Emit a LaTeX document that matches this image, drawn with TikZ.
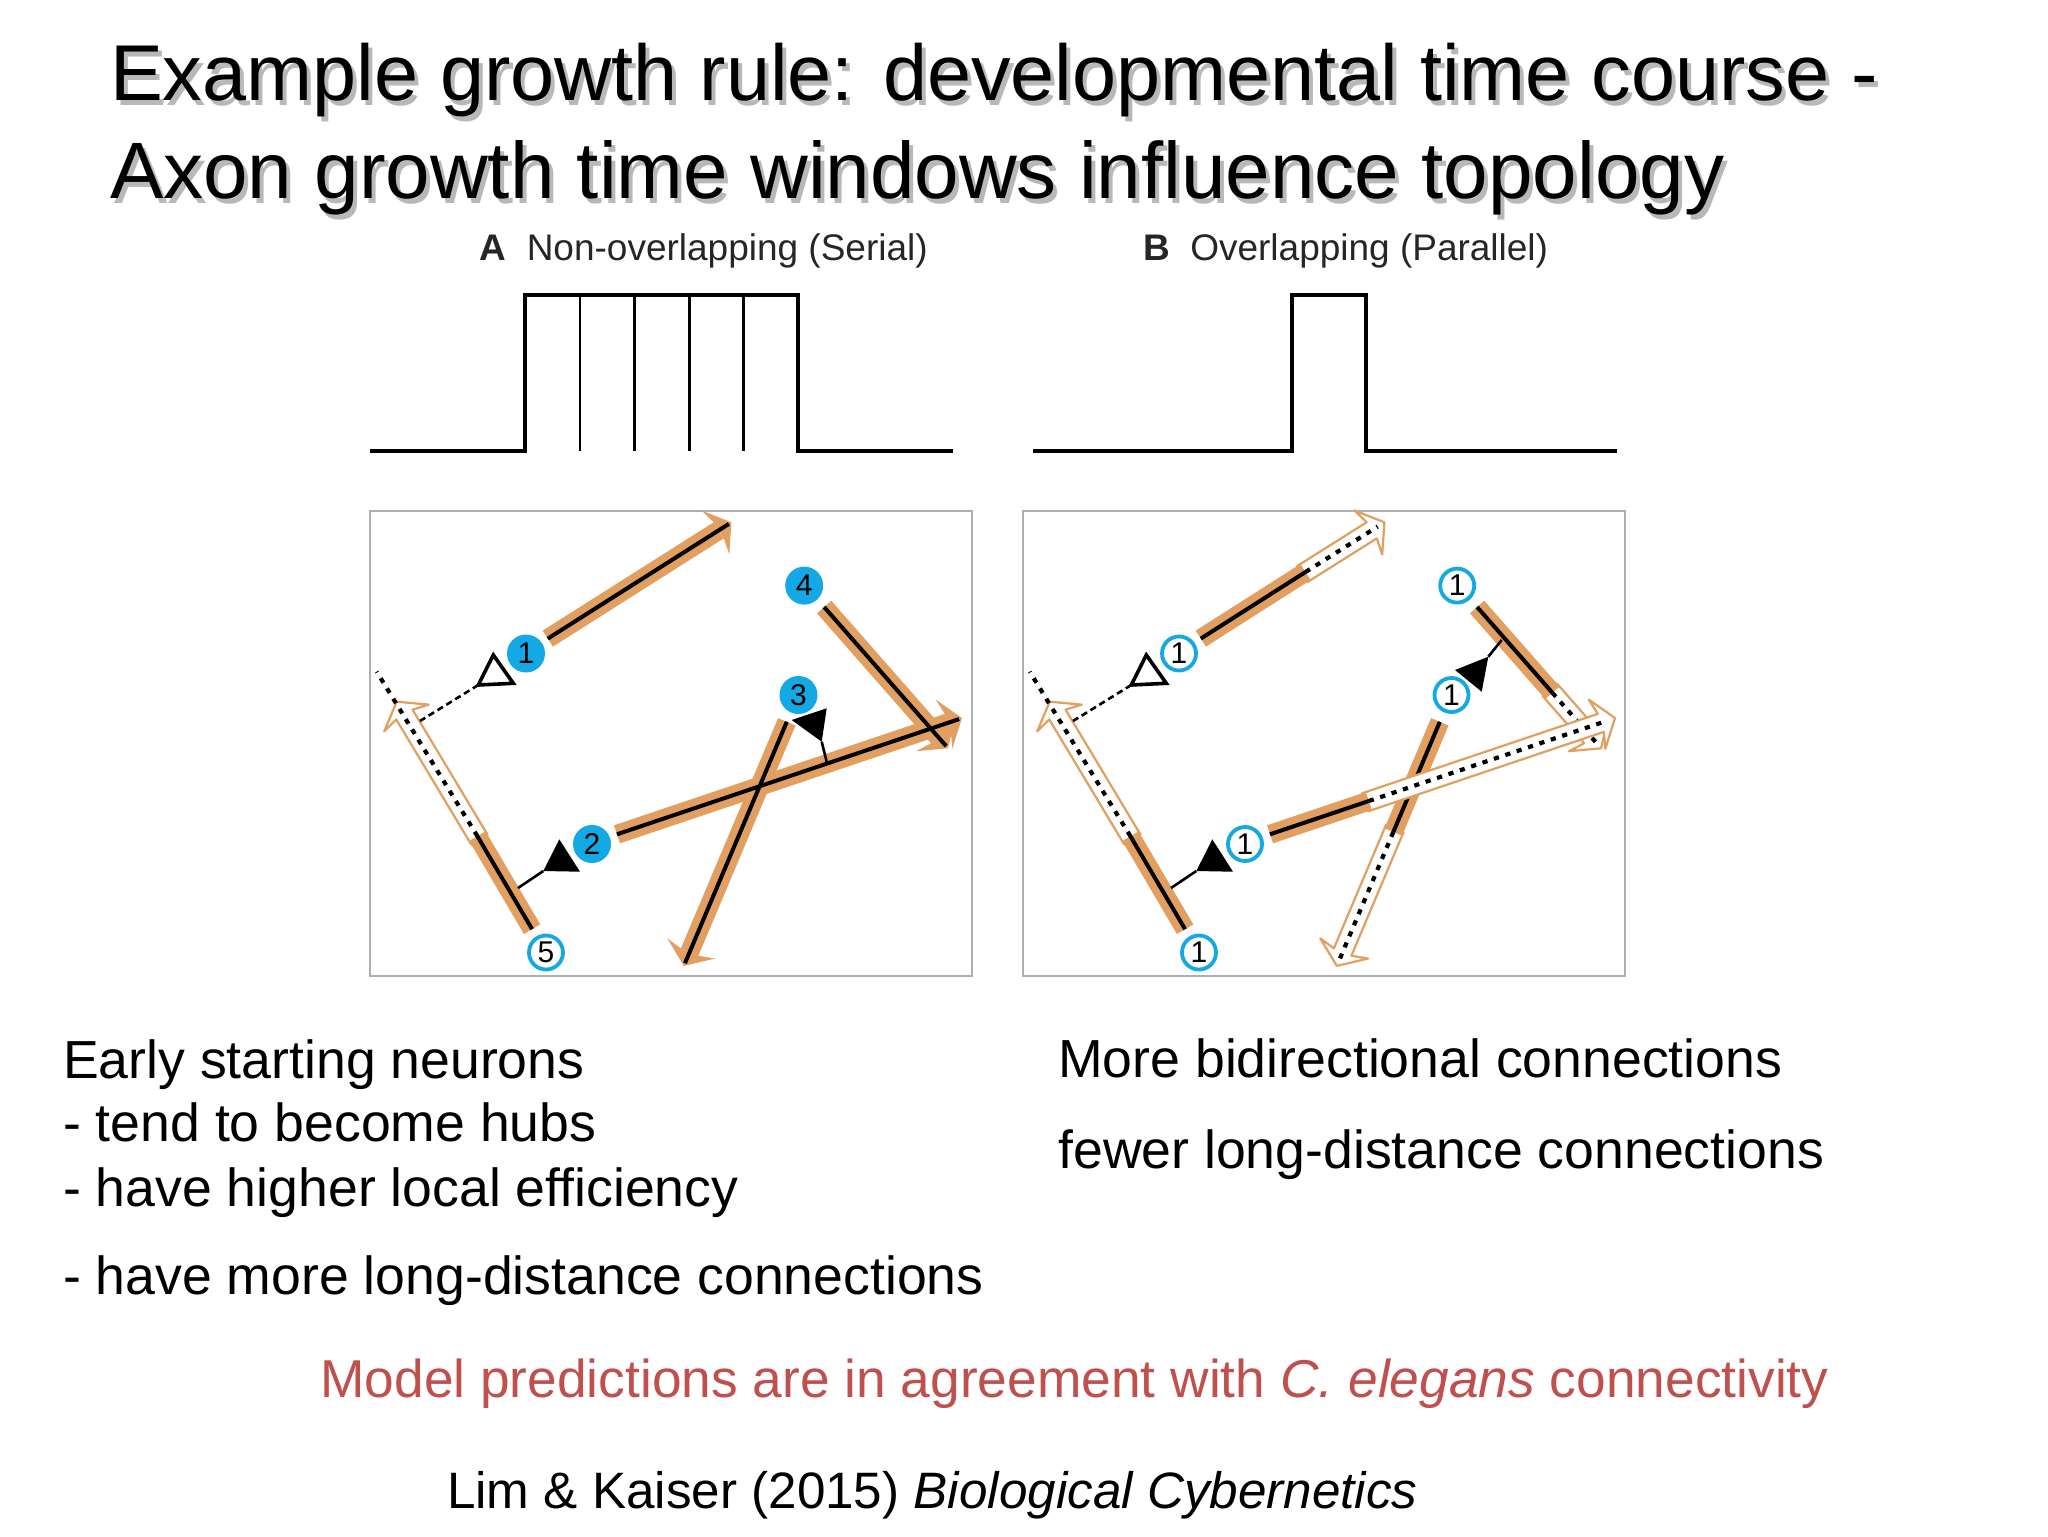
\documentclass[tikz,border=0pt]{standalone}
\usepackage{fontspec}
\setmainfont{Liberation Sans}
\usetikzlibrary{calc}
\definecolor{axorange}{RGB}{225,160,98}
\definecolor{nblue}{RGB}{20,168,228}
\definecolor{predred}{RGB}{192,80,77}
\definecolor{boxgray}{RGB}{175,175,175}
\tikzset{
  band/.style={line width=9.5pt, axorange},
  core/.style={line width=2pt, black},
  dots/.style={line width=2.1pt, black, dash pattern=on 2.6pt off 3.4pt},
  nfill/.style={circle, fill=nblue, minimum size=19pt, inner sep=0pt, font=\fontsize{15}{15}\selectfont},
  nring/.style={circle, draw=nblue, line width=1.9pt, fill=white, minimum size=17pt, inner sep=0pt, font=\fontsize{15}{15}\selectfont},
  ttl/.style={anchor=base west, inner sep=0pt, font=\fontsize{39.6}{48}\selectfont},
  ttlb/.style={anchor=base west, inner sep=0pt, font=\fontsize{40}{48}\selectfont},
  body/.style={anchor=base west, inner sep=0pt, font=\fontsize{26.8}{32}\selectfont},
  lab/.style={anchor=base west, inner sep=0pt, font=\fontsize{18.5}{22}\selectfont},
  pulse/.style={line width=1.9pt, black},
  pulsev/.style={line width=1.4pt, black},
  panelbox/.style={draw=boxgray, line width=1pt},
  opentri/.style={draw=black, line width=1.8pt, fill=white, line join=miter},
  stalk/.style={line width=1.3pt, black},
  dend/.style={line width=1.3pt, black, dash pattern=on 3.2pt off 2pt}
}
% head polygon of a solid axon: style, start, tip
\newcommand\headshape[3]{%
  \coordinate (hj) at ($(#3)!7.5pt!(#2)$);
  \coordinate (hk) at ($(#3)!9.5pt!(#2)$);
  \path[#1] ($(hj)!4.75pt!90:(#3)$) -- ($(hk)!13pt!90:(#3)$) -- (#3) --
   ($(hk)!13pt!-90:(#3)$) -- ($(hj)!4.75pt!-90:(#3)$) -- cycle;}
% hollow arrow polygon from #1 to tip #2
\newcommand\hollowshape[2]{%
  \coordinate (hj) at ($(#2)!7.5pt!(#1)$);
  \coordinate (hk) at ($(#2)!9.5pt!(#1)$);
  \path[fill=white, draw=axorange, line width=1.1pt, line join=round]
   ($(#1)!4.75pt!90:(#2)$) -- ($(hj)!4.75pt!90:(#2)$) -- ($(hk)!13pt!90:(#2)$) -- (#2) --
   ($(hk)!13pt!-90:(#2)$) -- ($(hj)!4.75pt!-90:(#2)$) -- ($(#1)!4.75pt!-90:(#2)$) -- cycle;}
\newcommand\solidband[2]{%
  \draw[band] (#1) -- ($(#2)!7.5pt!(#1)$);
  \headshape{fill=axorange}{#1}{#2}}
\newcommand\solidcore[2]{\draw[core] (#1) -- ($(#2)!1.5pt!(#1)$);}
% start, transition, tip, end of dotted line
\newcommand\mixedaxon[4]{%
  \coordinate (hb) at ($(#2)!2pt!(#1)$);
  \hollowshape{hb}{#3}
  \draw[band] (#1) -- (#2);
  \draw[core] (#1) -- (#2);
  \draw[dots] (#2) -- (#4);}
\begin{document}
\begin{tikzpicture}[x=0.5pt,y=-0.5pt]
\useasboundingbox (0,0) rectangle (2048,1536);
\fill[white] (0,0) rectangle (2048,1536);

% ---------- title ----------
\node[ttl, text=black!28] (t1s) at (113.7,105.1) {Example growth rule: developmental time course -};
\node[ttlb, text=black!28] (t2s) at (113.7,203) {Axon growth time windows influence topology};
\node[ttl] (t1) at (109.7,100.6) {Example growth rule: developmental time course -};
\node[ttlb] (t2) at (109.7,198.5) {Axon growth time windows influence topology};

% ---------- panel labels ----------
\node[lab, text=black!85] (labA) at (479.3,260) {\textbf{A}\hspace{0.55em}Non-overlapping (Serial)};
\node[lab, text=black!85] (labB) at (1142.8,260) {\textbf{B}\hspace{0.55em}Overlapping (Parallel)};

% ---------- time windows ----------
\draw[pulse, line join=miter] (369.6,450.6) -- (525,450.6) -- (525,295.2) -- (798,295.2) -- (798,450.6) -- (953.4,450.6);
\foreach \xx in {579.9,634.7,689.6,743.1} \draw[pulsev] (\xx,450.6) -- (\xx,295.2);
\draw[pulse, line join=miter] (1033,450.6) -- (1291.6,450.6) -- (1291.6,295.2) -- (1366,295.2) -- (1366,450.6) -- (1616.8,450.6);

% ---------- panel boxes ----------
\draw[panelbox] (369.6,510.7) rectangle (971.7,975.6);
\draw[panelbox] (1022.6,510.7) rectangle (1624.7,975.6);

% ---------- panel A ----------
\coordinate (Aa1s) at (547.8,638.6);
\coordinate (Aa1t) at (731.4,522.3);
\coordinate (Aa5s) at (532.1,929.2);
\coordinate (Aa5m) at (477.4,836.2);
\coordinate (Aa5t) at (396.7,701.7);
\coordinate (Aa5e) at (376.7,671.7);
\coordinate (Aa2s) at (617,834.3);
\coordinate (Aa2t) at (962,718.1);
\coordinate (Aa3s) at (786.8,721.8);
\coordinate (Aa3t) at (683.8,965.9);
\coordinate (Aa4s) at (824.1,607);
\coordinate (Aa4t) at (948.1,748.3);

\solidband{Aa3s}{Aa3t}
\solidband{Aa2s}{Aa2t}
\solidband{Aa4s}{Aa4t}
\solidband{Aa1s}{Aa1t}
\solidcore{Aa3s}{Aa3t}
\solidcore{Aa2s}{Aa2t}
\solidcore{Aa4s}{Aa4t}
\solidcore{Aa1s}{Aa1t}
\mixedaxon{Aa5s}{Aa5m}{Aa5t}{Aa5e}

% somata A
\coordinate (Ao1) at (493.3,655); \coordinate (Ao2) at (478.3,685); \coordinate (Ao3) at (513.3,683.3);
\coordinate (Aod) at (420,721);
\draw[dend] (Ao2) -- (Aod);
\draw[opentri] (Ao1) -- (Ao2) -- (Ao3) -- cycle;
\coordinate (Af1) at (559.3,839.3); \coordinate (Af2) at (580,871.7); \coordinate (Af3) at (543.3,871);
\coordinate (Afd) at (518,888);
\draw[stalk] (Af3) -- (Afd);
\fill[black] (Af1) -- (Af2) -- (Af3) -- cycle;
\coordinate (Ag1) at (791.7,720); \coordinate (Ag2) at (826.7,708.3); \coordinate (Ag3) at (821.7,741.7);
\coordinate (Agd) at (826.7,762);
\draw[stalk] (Ag3) -- (Agd);
\fill[black] (Ag1) -- (Ag2) -- (Ag3) -- cycle;

\node[nfill] (An1) at (526,653.5) {1};
\node[nfill] (An2) at (592,844) {2};
\node[nfill] (An3) at (798.5,695) {3};
\node[nfill] (An4) at (804.2,585.6) {4};
\node[nring] (An5) at (546,952.5) {5};

% ---------- panel B ----------
\coordinate (Ba1s) at (1200.8,638.6);
\coordinate (Ba1m) at (1305.5,572);
\coordinate (Ba1t) at (1384.4,522.3);
\coordinate (Ba1e) at ($(Ba1t)!4pt!(Ba1s)$);
\coordinate (Ba5s) at (1185.1,929.2);
\coordinate (Ba5m) at (1130.4,836.2);
\coordinate (Ba5t) at (1049.7,701.7);
\coordinate (Ba5e) at (1029.7,671.7);
\coordinate (Ba2s) at (1270,834.3);
\coordinate (Ba2m) at (1368.8,801);
\coordinate (Ba2t) at (1615,718.1);
\coordinate (Ba2e) at ($(Ba2t)!4pt!(Ba2s)$);
\coordinate (Ba3s) at (1439.8,721.8);
\coordinate (Ba3m) at (1393.3,832);
\coordinate (Ba3t) at (1336.8,965.9);
\coordinate (Ba3e) at ($(Ba3t)!4pt!(Ba3s)$);
\coordinate (Ba4s) at (1477.1,607);
\coordinate (Ba4m) at (1552.4,692.8);
\coordinate (Ba4t) at (1601.1,748.3);
\coordinate (Ba4e) at ($(Ba4t)!4pt!(Ba4s)$);

\mixedaxon{Ba4s}{Ba4m}{Ba4t}{Ba4e}
\mixedaxon{Ba3s}{Ba3m}{Ba3t}{Ba3e}
\mixedaxon{Ba2s}{Ba2m}{Ba2t}{Ba2e}
\mixedaxon{Ba1s}{Ba1m}{Ba1t}{Ba1e}
\mixedaxon{Ba5s}{Ba5m}{Ba5t}{Ba5e}

% somata B
\coordinate (Bo1) at (1146.3,655); \coordinate (Bo2) at (1131.3,685); \coordinate (Bo3) at (1166.3,683.3);
\coordinate (Bod) at (1073,721);
\draw[dend] (Bo2) -- (Bod);
\draw[opentri] (Bo1) -- (Bo2) -- (Bo3) -- cycle;
\coordinate (Bf1) at (1212.3,839.3); \coordinate (Bf2) at (1233,871.7); \coordinate (Bf3) at (1196.3,871);
\coordinate (Bfd) at (1171,888);
\draw[stalk] (Bf3) -- (Bfd);
\fill[black] (Bf1) -- (Bf2) -- (Bf3) -- cycle;
\coordinate (Bg1) at (1455,670); \coordinate (Bg2) at (1488.3,656.7); \coordinate (Bg3) at (1481.7,691.7);
\coordinate (Bgd) at (1501.7,640);
\draw[stalk] (Bg2) -- (Bgd);
\fill[black] (Bg1) -- (Bg2) -- (Bg3) -- cycle;

\node[nring] (Bn1) at (1179,653.5) {1};
\node[nring] (Bn2) at (1245,844) {1};
\node[nring] (Bn3) at (1451.5,695) {1};
\node[nring] (Bn4) at (1457.2,585.6) {1};
\node[nring] (Bn5) at (1199,952.5) {1};

% ---------- text ----------
\node[body] (e1) at (62.7,1078) {Early starting neurons};
\node[body] (e2) at (62.7,1141.5) {- tend to become hubs};
\node[body] (e3) at (62.7,1206.7) {- have higher local efficiency};
\node[body] (e4) at (62.7,1294.2) {- have more long-distance connections};
\node[body] (r1) at (1057.9,1077.5) {More bidirectional connections};
\node[body] (r2) at (1057.9,1168.9) {fewer long-distance connections};
\node[body, text=predred, font=\fontsize{26.65}{32}\selectfont] (pred) at (320,1397.4) {Model predictions are in agreement with \textit{C. elegans} connectivity};
\node[body, font=\fontsize{25.6}{30}\selectfont] (cite) at (446.7,1508.4) {Lim \& Kaiser (2015) \textit{Biological Cybernetics}};
\end{tikzpicture}
\end{document}
